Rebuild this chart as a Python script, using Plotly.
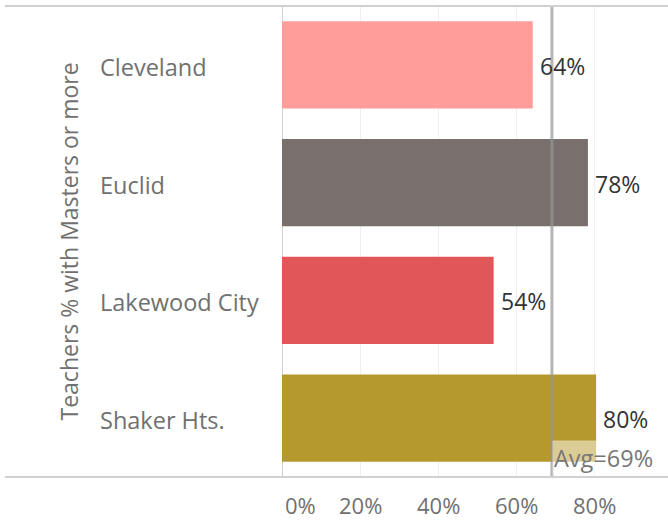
import plotly.graph_objects as go

cities = ["Cleveland", "Euclid", "Lakewood City", "Shaker Hts."]
pct = [64.1, 78.2, 54.1, 80.3]
colors = ["#FF9D9A", "#79706E", "#E15759", "#B6992D"]
avg = 69
tick_vals = [0, 20, 40, 60, 80]
tick_text = ["0%", "20%", "40%", "60%", "80%"]

FONT = "Open Sans"
W, H = 668, 521
L, R, T, B = 282, 0, 6, 44
pw = W - L - R

fig = go.Figure()
fig.add_trace(go.Bar(
    y=cities, x=pct, orientation="h",
    marker=dict(color=colors, line=dict(width=0)),
    width=0.74, hoverinfo="skip",
))

fig.add_shape(type="line", xref="x", yref="paper", x0=avg, x1=avg, y0=0, y1=1,
              line=dict(color="rgba(150,150,150,0.7)", width=3), layer="above")

# value labels
for c, v in zip(cities, pct):
    fig.add_annotation(xref="x", yref="y", x=v, y=c, text=f"{round(v)}%",
                       showarrow=False, xanchor="left", xshift=5, yshift=-1,
                       font=dict(family=FONT, size=23, color="#333333"))

# category labels
for c in cities:
    fig.add_annotation(xref="paper", yref="y", x=(98 - L) / pw, y=c, text=c,
                       showarrow=False, xanchor="left", yshift=-2,
                       font=dict(family=FONT, size=23.5, color="#707070"))

# axis title
fig.add_annotation(xref="paper", yref="paper", x=(50 - L) / pw, y=0.5,
                   text="Teachers % with Masters or more", textangle=-90,
                   showarrow=False, font=dict(family=FONT, size=23, color="#707070"))

# tick labels
for v, t in zip(tick_vals, tick_text):
    fig.add_annotation(xref="x", yref="paper", x=v, y=0, yshift=-11, text=t,
                       showarrow=False, xanchor="left" if v == 0 else "center",
                       yanchor="top", xshift=1 if v == 0 else 0,
                       font=dict(family=FONT, size=22, color="#707070"))

# avg label
fig.add_annotation(xref="x", yref="paper", x=avg, y=0, text=f"Avg={avg}%",
                   showarrow=False, xanchor="left", yanchor="bottom", xshift=0, yshift=1,
                   bgcolor="rgba(255,255,255,0.5)", borderpad=1,
                   font=dict(family=FONT, size=23.5, color="#777777"))

# frame lines
for yy in (0, 1):
    fig.add_shape(type="line", xref="paper", yref="paper", x0=(5 - L) / pw, x1=1,
                  y0=yy, y1=yy, line=dict(color="#d0d0d0", width=2))

fig.update_layout(
    width=W, height=H, margin=dict(l=L, r=R, t=T, b=B),
    paper_bgcolor="white", plot_bgcolor="white", showlegend=False,
    xaxis=dict(range=[0, pw / 3.912], tickvals=tick_vals, showticklabels=False,
               showgrid=True, gridcolor="#efefef", gridwidth=1,
               zeroline=True, zerolinecolor="#d0d0d0", zerolinewidth=1,
               fixedrange=True),
    yaxis=dict(autorange="reversed", showticklabels=False, showgrid=False,
               zeroline=False, fixedrange=True),
)
fig.write_html("out.html", config={"displayModeBar": False},
               post_script="document.body.style.margin='0';document.body.style.overflow='hidden';")
